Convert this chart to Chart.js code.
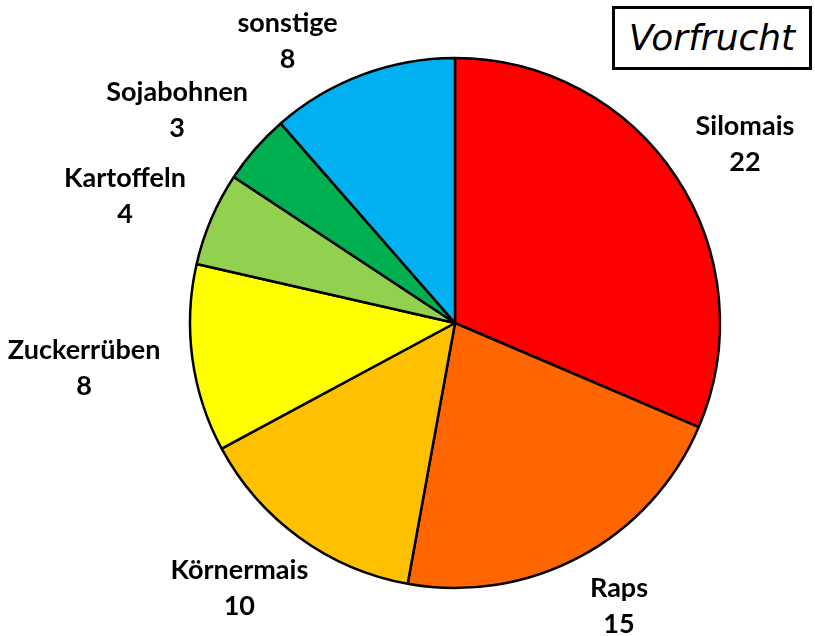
<!DOCTYPE html>
<html>
<head>
<meta charset="utf-8">
<script src="https://cdn.jsdelivr.net/npm/chart.js@4"></script>
<style>
  html, body { margin: 0; padding: 0; background: #fff; }
  #wrap { position: relative; width: 815px; height: 636px; }
  #titelBox {
    position: absolute; left: 612px; top: 6px; width: 194px; height: 58px;
    border: 3px solid #000; background: #fff;
    font-family: "DejaVu Sans", sans-serif; font-style: italic; font-size: 36px;
    line-height: 58px; text-align: center; color: #000;
  }
</style>
</head>
<body>
<div id="wrap">
  <canvas id="vorfruchtChart" width="815" height="636"></canvas>
  <div id="titelBox">Vorfrucht</div>
</div>
<script>
// Daten: Vorfrucht (Anzahl Flächen)
const kategorien = ["Silomais", "Raps", "Körnermais", "Zuckerrüben", "Kartoffeln", "Sojabohnen", "sonstige"];
const anzahl = [22, 15, 10, 8, 4, 3, 8];
const farben = ["#FF0000", "#FF6600", "#FFC000", "#FFFF00", "#92D050", "#00B050", "#00B0F0"];

// Beschriftungen außen am Kreis zeichnen (Name + Wert, fett)
const labelPlugin = {
    id: "aussenLabels",
    afterDatasetsDraw(chart) {
        const ctx = chart.ctx;
        const meta = chart.getDatasetMeta(0);
        const lineHeight = 36;
        const gap = 33;
        const h = 56;
        ctx.save();
        ctx.font = "bold 27px Lato, sans-serif";
        ctx.fillStyle = "#000";
        ctx.textAlign = "center";
        ctx.textBaseline = "alphabetic";
        meta.data.forEach((arc, i) => {
            const p = arc.getProps(["x", "y", "startAngle", "endAngle", "outerRadius"], true);
            const mid = (p.startAngle + p.endAngle) / 2;
            const cos = Math.cos(mid), sin = Math.sin(mid);
            const zeile1 = kategorien[i];
            const zeile2 = String(anzahl[i]);
            const w = Math.max(ctx.measureText(zeile1).width, ctx.measureText(zeile2).width);
            const ax = p.x + cos * (p.outerRadius + gap);
            const ay = p.y + sin * (p.outerRadius + gap);
            let cx = ax + cos * w / 2;
            let cy = ay + sin * h / 2;
            // am Rand anstoßen: entlang des Kreises verschieben
            const minCy = 12 + h / 2, maxCy = chart.height - 59 + h / 2;
            if (cy < minCy || cy > maxCy) {
                const d = Math.hypot(cx - p.x, cy - p.y);
                const neuCy = Math.min(Math.max(cy, minCy), maxCy);
                const dy = neuCy - p.y;
                cx = p.x + Math.sign(cx - p.x) * Math.sqrt(Math.max(d * d - dy * dy, 0));
                cy = neuCy;
            }
            const top = cy - h / 2;
            ctx.fillText(zeile1, cx, top + 20);
            ctx.fillText(zeile2, cx, top + 20 + lineHeight);
        });
        ctx.restore();
    }
};

new Chart(document.getElementById("vorfruchtChart").getContext("2d"), {
    type: "pie",
    data: {
        labels: kategorien,
        datasets: [{
            data: anzahl,
            backgroundColor: farben,
            borderColor: "#000",
            borderWidth: 2.5,
            radius: 265
        }]
    },
    options: {
        responsive: false,
        animation: false,
        layout: { padding: { left: 95, right: 0, top: 10, bottom: 0 } },
        plugins: {
            legend: { display: false },
            tooltip: { enabled: false }
        }
    },
    plugins: [labelPlugin]
});
</script>
</body>
</html>
